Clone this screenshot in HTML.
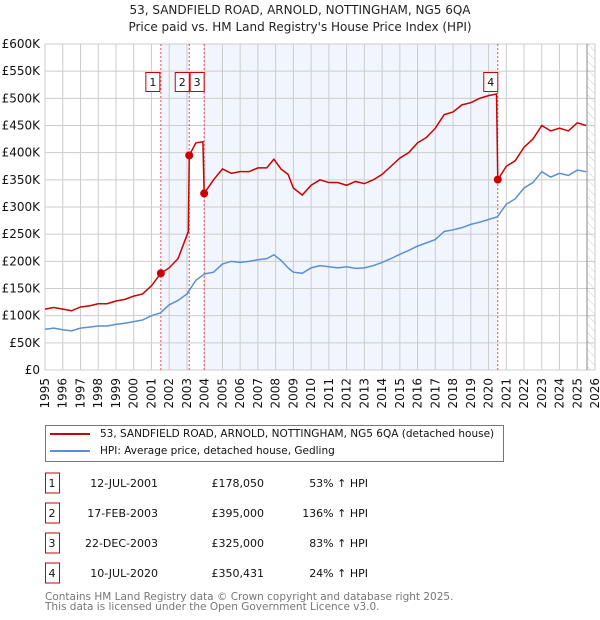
<!DOCTYPE html>
<html><head><meta charset="utf-8">
<style>
body{margin:0;background:#fff;font-family:"DejaVu Sans","Liberation Sans",sans-serif;}
#wrap{position:relative;width:600px;height:620px;overflow:hidden;}
svg text{font-family:"DejaVu Sans","Liberation Sans",sans-serif;}
</style></head><body>
<div id="wrap">
<svg id="svg" width="600" height="620" xmlns="http://www.w3.org/2000/svg">
<text x="300" y="14" text-anchor="middle" font-size="12" fill="#222">53, SANDFIELD ROAD, ARNOLD, NOTTINGHAM, NG5 6QA</text>
<text x="300" y="31" text-anchor="middle" font-size="12" fill="#222">Price paid vs. HM Land Registry's House Price Index (HPI)</text>
<g id="plot"></g>
<g>
<rect x="45.5" y="425.5" width="458" height="36" fill="#fff" stroke="#777"/>
<line x1="50" y1="434" x2="90" y2="434" stroke="#cc0000" stroke-width="2"/>
<text x="100" y="437" font-size="10.5" fill="#111">53, SANDFIELD ROAD, ARNOLD, NOTTINGHAM, NG5 6QA (detached house)</text>
<line x1="50" y1="451" x2="90" y2="451" stroke="#5b8fd4" stroke-width="2"/>
<text x="100" y="454" font-size="10.5" fill="#111">HPI: Average price, detached house, Gedling</text>
</g>
<g id="table"></g>
<text x="45" y="600" font-size="10.5" fill="#777">Contains HM Land Registry data © Crown copyright and database right 2025.</text>
<text x="45" y="610" font-size="10.5" fill="#777">This data is licensed under the Open Government Licence v3.0.</text>
</svg>
</div>
<script>
const years=[1995,1996,1997,1998,1999,2000,2001,2002,2003,2004,2005,2006,2007,2008,2009,2010,2011,2012,2013,2014,2015,2016,2017,2018,2019,2020,2021,2022,2023,2024,2025,2026];
const yTicks=[0,50,100,150,200,250,300,350,400,450,500,550,600];
const yTickLabels=["£0","£50K","£100K","£150K","£200K","£250K","£300K","£350K","£400K","£450K","£500K","£550K","£600K"];
const saleDates=[2001.53,2003.13,2003.97,2020.52];
const salePrices=[178.05,395,325,350.431];
const saleLabels=["1","2","3","4"];
const saleDateText=["12-JUL-2001","17-FEB-2003","22-DEC-2003","10-JUL-2020"];
const salePriceText=["£178,050","£395,000","£325,000","£350,431"];
const salePctText=["53% \u2191 HPI","136% \u2191 HPI","83% \u2191 HPI","24% \u2191 HPI"];
const hpiX=[1995,1995.5,1996,1996.5,1997,1997.5,1998,1998.5,1999,1999.5,2000,2000.5,2001,2001.5,2002,2002.5,2003,2003.5,2004,2004.5,2005,2005.5,2006,2006.5,2007,2007.5,2007.9,2008.3,2008.7,2009,2009.5,2010,2010.5,2011,2011.5,2012,2012.5,2013,2013.5,2014,2014.5,2015,2015.5,2016,2016.5,2017,2017.5,2018,2018.5,2019,2019.5,2020,2020.5,2021,2021.5,2022,2022.5,2023,2023.5,2024,2024.5,2025,2025.5];
const hpiY=[75,77,74,72,77,79,81,81,84,86,89,92,100,105,120,128,140,165,177,180,195,200,198,200,203,205,212,202,188,180,178,188,192,190,188,190,187,188,192,198,205,213,220,228,234,240,255,258,262,268,272,277,282,305,315,335,345,365,355,362,358,368,365];
const redX=[1995,1995.5,1996,1996.5,1997,1997.5,1998,1998.5,1999,1999.5,2000,2000.5,2001,2001.53,2002,2002.5,2003.08,2003.13,2003.5,2003.9,2003.97,2004.5,2005,2005.5,2006,2006.5,2007,2007.5,2007.9,2008.3,2008.7,2009,2009.5,2010,2010.5,2011,2011.5,2012,2012.5,2013,2013.5,2014,2014.5,2015,2015.5,2016,2016.5,2017,2017.5,2018,2018.5,2019,2019.5,2020,2020.45,2020.52,2021,2021.5,2022,2022.5,2023,2023.5,2024,2024.5,2025,2025.5];
const redY=[112,115,112,109,116,118,122,122,127,130,136,140,155,178,188,205,255,395,418,420,325,350,370,362,365,365,372,372,388,370,360,335,322,340,350,345,345,340,347,343,350,360,375,390,400,418,428,445,470,475,488,492,500,505,508,350,375,385,410,425,450,440,445,440,455,450];

const L=45,R=595,T=44,B=370,X0=1995,X1=2026,YMAX=600;
const sx=v=>L+(v-X0)*(R-L)/(X1-X0);
const sy=v=>B-v*(B-T)/YMAX;
const NS="http://www.w3.org/2000/svg";
function mk(tag,attrs,parent){const e=document.createElementNS(NS,tag);for(const k in attrs)e.setAttribute(k,attrs[k]);parent.appendChild(e);return e;}
const plot=document.getElementById('plot');

const sh1=mk('rect',{x:sx(saleDates[0]),y:T,width:sx(saleDates[1])-sx(saleDates[0]),height:B-T,fill:'#eef3fc',opacity:0.8},plot);


const sh2=mk('rect',{x:sx(saleDates[2]),y:T,width:sx(saleDates[3])-sx(saleDates[2]),height:B-T,fill:'#eef3fc',opacity:0.8},plot);



const defs=mk('defs',{},plot);
const pat=mk('pattern',{id:'hatch',width:6,height:6,patternUnits:'userSpaceOnUse',patternTransform:'rotate(-45)'},defs);
mk('line',{x1:0,y1:0,x2:0,y2:6,stroke:'#ccc','stroke-width':1},pat);
const hx=sx(2025.55);
const hr=mk('rect',{x:hx,y:T,width:R-hx,height:B-T,fill:'url(#hatch)'},plot);



years.forEach((y,i)=>{
  const g=mk('line',{x1:sx(y),x2:sx(y),y1:T,y2:B,stroke:'#ccc','stroke-width':1},plot);
  
  
  const t=mk('text',{x:0,y:0,'font-size':12,fill:'#111','text-anchor':'end',transform:`translate(${sx(y)+4},${B+8}) rotate(-90)`},plot);
  t.textContent=y;
  
  
});
yTicks.forEach((v,i)=>{
  const g=mk('line',{x1:L,x2:R,y1:sy(v),y2:sy(v),stroke:'#ccc','stroke-width':1},plot);
  
  
  const t=mk('text',{x:L-5,y:sy(v)+4,'font-size':12,fill:'#111','text-anchor':'end'},plot);
  t.textContent=yTickLabels[i];
  
  
});
const nl=mk('line',{x1:hx,x2:hx,y1:T,y2:B,stroke:'#888','stroke-width':1},plot);



saleDates.forEach((d,i)=>{
  const l=mk('line',{x1:sx(d),x2:sx(d),y1:T,y2:B,stroke:'#e05555','stroke-width':1,'stroke-dasharray':'2,2'},plot);
  
  
});

const bp=mk('polyline',{points:hpiX.map((x,i)=>sx(x)+','+sy(hpiY[i])).join(' '),fill:'none',stroke:'#5b8fd4','stroke-width':1.5},plot);


const rp=mk('polyline',{points:redX.map((x,i)=>sx(x)+','+sy(redY[i])).join(' '),fill:'none',stroke:'#cc0000','stroke-width':1.5},plot);



saleDates.forEach((d,i)=>{
  const c=mk('circle',{cx:sx(d),cy:sy(salePrices[i]),r:4,fill:'#cc0000'},plot);
  
  
  let bx=sx(d)-14;
  if(i==0) bx=sx(d)-15;
  const b=mk('rect',{x:bx,y:72.5,width:14,height:19,fill:'#fff',stroke:'#cc0000'},plot);
  
  
  const t=mk('text',{x:bx+7,y:86,'font-size':11,fill:'#111','text-anchor':'middle'},plot);
  t.textContent=saleLabels[i];
  
  
});

const tb=document.getElementById('table');
saleLabels.forEach((s,i)=>{
  const cy=483+i*30;
  const b=mk('rect',{x:45.5,y:cy-10,width:14,height:20,fill:'#fff',stroke:'#cc0000'},tb);
  
  
  const cols=[[52,s,'middle'],[158,saleDateText[i],'end'],[264,salePriceText[i],'end'],[368,salePctText[i],'end']];
  cols.forEach((c,j)=>{
    const t=mk('text',{x:c[0],y:cy+4,'font-size':11,fill:'#111','text-anchor':c[2]},tb);
    t.textContent=c[1];
    
    
  });
});
</script>
</body></html>
